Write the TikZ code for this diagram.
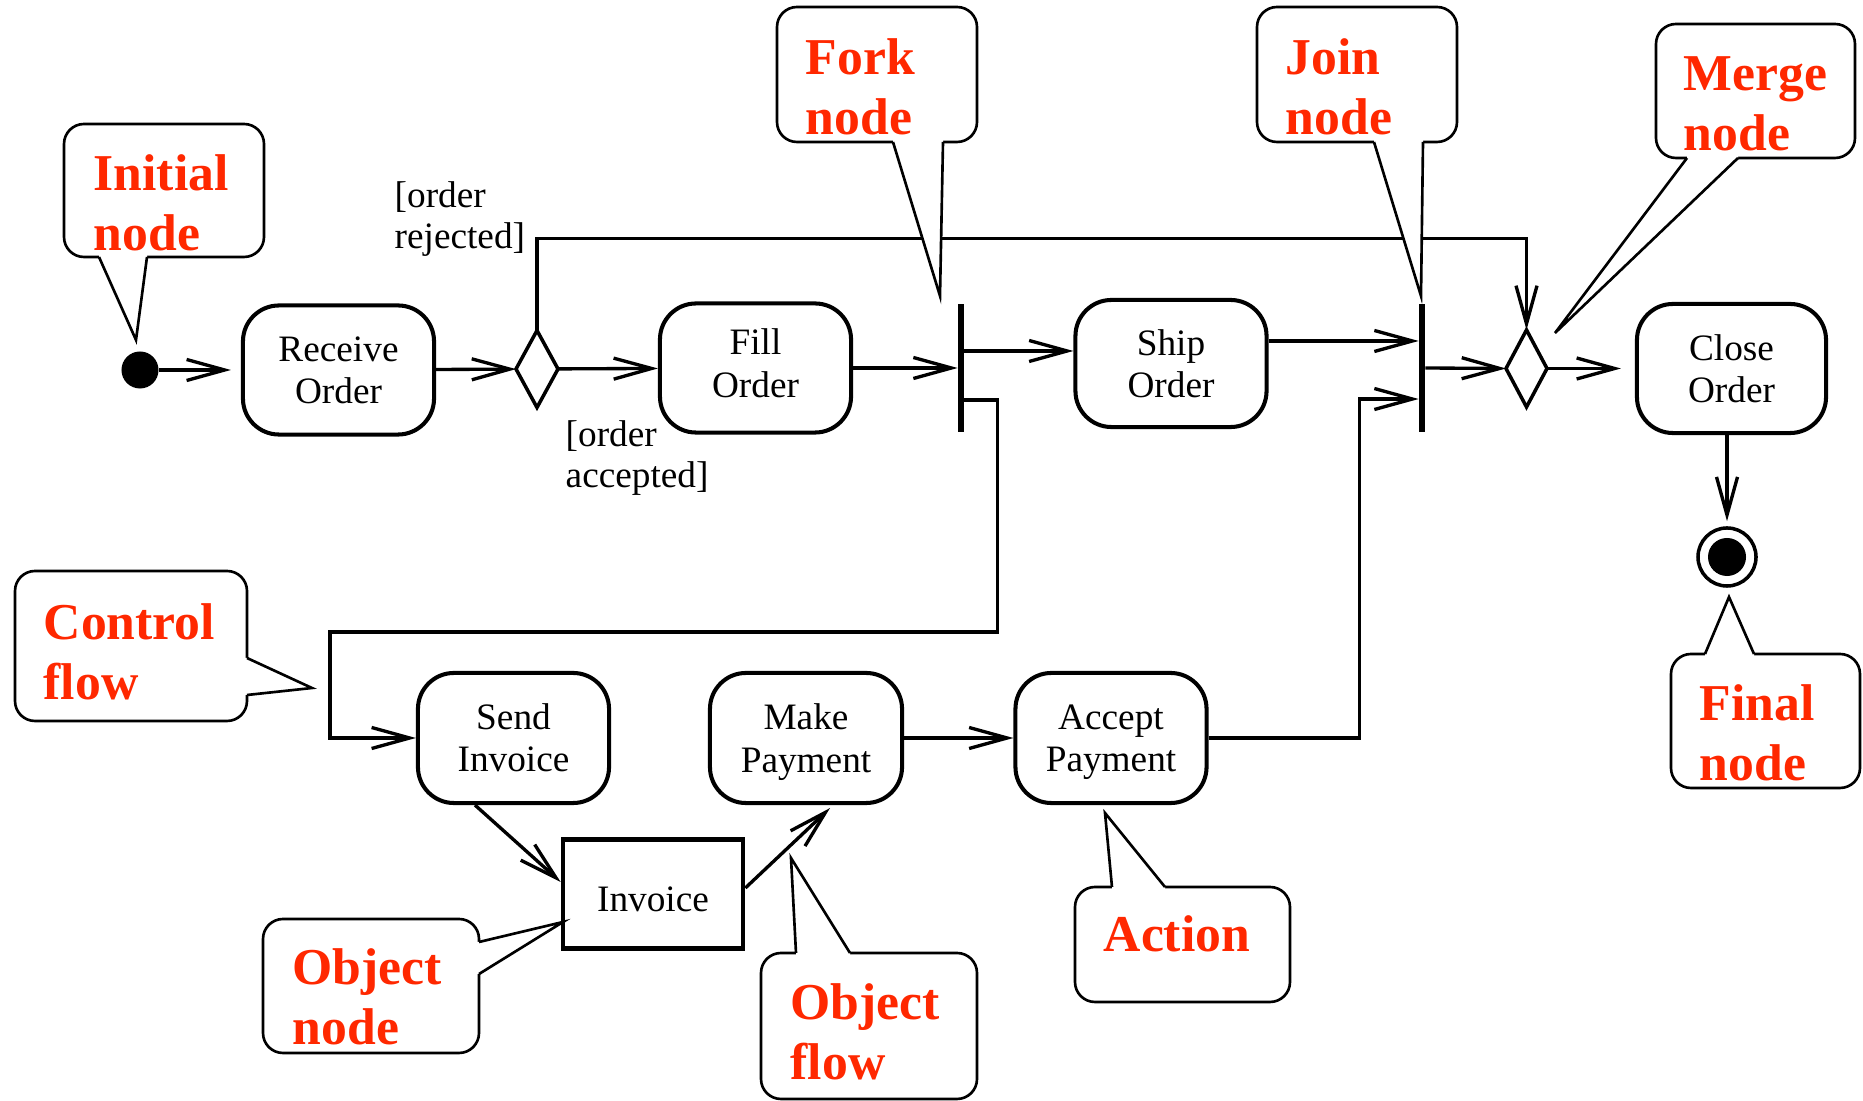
\documentclass[tikz,border=0pt]{standalone}
\usepackage{fontspec}
\setmainfont{Liberation Serif}
\usetikzlibrary{arrows.meta,shapes.geometric}
\definecolor{notered}{RGB}{255,40,0}
% a text line whose descender does not count for centring
\newcommand\nodepthline[1]{\raisebox{0pt}[\height][0pt]{#1}}

\begin{document}
\begin{tikzpicture}[x=0.01cm, y=-0.01cm,
  flow/.style={line width=0.95pt, -{Straight Barb[length=0.38cm,width=0.21cm]}},
  action/.style={draw, line width=1.15pt, rounded corners=0.36cm,
    minimum width=1.91cm, minimum height=1.29cm, align=center, inner sep=0pt,
    font=\fontsize{10.6}{12}\selectfont},
  objbox/.style={draw, line width=1.3pt, minimum width=1.80cm, minimum height=1.09cm,
    inner sep=0pt, font=\fontsize{10.6}{12}\selectfont},
  branch/.style={diamond, draw, line width=1pt, minimum width=0.42cm,
    minimum height=0.77cm, inner sep=0pt, outer sep=0pt},
  bar/.style={fill=black, minimum width=0.067cm, minimum height=1.28cm,
    inner sep=0pt, outer sep=0pt},
  guard/.style={font=\fontsize{10.6}{11.4}\selectfont, anchor=base west, inner sep=0pt},
  callbox/.style={draw, fill=white, line width=0.75pt, rounded corners=0.2cm},
  tailfill/.style={fill=white},
  tailline/.style={line width=0.75pt, line join=miter},
  notetext/.style={text=notered, font={\fontsize{14.7}{17}\selectfont\bfseries},
    anchor=base west, inner sep=0pt},
]
\fill[white] (0,0) rectangle (1863,1101);
\useasboundingbox (0,0) rectangle (1863,1101);

% ---- activity nodes ----
\node[circle, fill=black, minimum size=0.37cm, inner sep=0pt] (init) at (140,370) {};
\node[action] (recv) at (338.5,370) {Receive\\Order};
\node[branch] (dec) at (537,369) {};
\node[action] (fillo) at (755.5,368) {Fill\\\raisebox{0pt}[\height][0.1cm]{Order}};
\node[bar] (fork) at (961,368) {};
\node[action, minimum height=1.27cm] (ship) at (1171,363.5) {Ship\\Order};
\node[bar] (join) at (1422,368) {};
\node[branch, minimum width=0.41cm] (merge) at (1526.5,368.5) {};
\node[action, minimum width=1.89cm] (close) at (1731.5,368.5) {Close\\Order};
\node[circle, draw, line width=1pt, minimum size=0.58cm, inner sep=0pt] (final) at (1727,557) {};
\node[circle, fill=black, minimum size=0.38cm, inner sep=0pt] (finaldot) at (final) {};

\node[action, minimum height=1.30cm] (send) at (513.5,738) {Send\\Invoice};
\node[action, minimum height=1.30cm, minimum width=1.92cm] (make) at (806,738)
  {Make\\\nodepthline{Payment}};
\node[action, minimum height=1.30cm] (accept) at (1111,738) {Accept\\\nodepthline{Payment}};
\node[objbox] (inv) at (653,894) {\raisebox{-0.055cm}[\height][\depth]{Invoice}};

% ---- guards ----
\node[guard] (gRej) at (394,208) {\begin{tabular}[t]{@{}l@{}}[order\\rejected]\end{tabular}};
\node[guard] (gAcc) at (565,447) {\begin{tabular}[t]{@{}l@{}}[order\\accepted]\end{tabular}};

% ---- control flows ----
\draw[flow, shorten >=0.1cm] (init) -- (recv);
\draw[flow] (recv) -- (dec);
\draw[flow] (dec) -- (fillo);
\draw[flow] (fillo) -- (fillo -| fork.west);
\draw[flow] ([yshift=0.17cm]fork.east) -- ([yshift=0.17cm]fork.east -| ship.west);
\draw[flow] ([yshift=-0.32cm]fork.east) -- ++(33,0) |- (330,632) |- (send.west);
\draw[flow] (dec.north) -- ++(0,-92) -| (merge.north);
\draw[flow] ([yshift=0.225cm]ship.east) -- ([yshift=0.225cm]ship.east -| join.west);
\draw[flow] (accept.east) -- ++(151,0) |- ([yshift=-0.31cm]join.west);
\draw[flow] (join.east) -- (merge.west);
\draw[flow, shorten >=0.14cm] (merge.east) -- (close.west);
\draw[flow, shorten >=0.05cm] (final.north |- close.south) -- (final.north);
\draw[flow] (make) -- (accept);

% ---- object flows ----
\draw[flow] ([xshift=-0.385cm]send.south) -- ([yshift=0.12cm]inv.west);
\draw[flow] ([yshift=0.06cm]inv.east) -- ([xshift=0.24cm,yshift=-0.03cm]make.south);

% ---- callouts ----
% Initial node
\draw[callbox] (64,124) rectangle (264,257);
\fill[tailfill] (99,252) -- (99,257) -- (136,340) -- (147,257) -- (147,252) -- cycle;
\draw[tailline] (99,257) -- (136,340) -- (147,257);
\node[notetext] (tInit) at (93,191) {\begin{tabular}[t]{@{}l@{}}Initial\\node\end{tabular}};

% Fork node
\draw[callbox] (777,7) rectangle (977,142);
\fill[tailfill] (893,137) -- (893,142) -- (940,296) -- (943,142) -- (943,137) -- cycle;
\draw[tailline] (893,142) -- (940,296) -- (943,142);
\node[notetext] (tFork) at (805,75) {\begin{tabular}[t]{@{}l@{}}Fork\\node\end{tabular}};

% Join node
\draw[callbox] (1257,7) rectangle (1457,142);
\fill[tailfill] (1374,137) -- (1374,142) -- (1421,296) -- (1423,142) -- (1423,137) -- cycle;
\draw[tailline] (1374,142) -- (1421,296) -- (1423,142);
\node[notetext] (tJoin) at (1285,75) {\begin{tabular}[t]{@{}l@{}}Join\\node\end{tabular}};

% Merge node
\draw[callbox] (1656,24) rectangle (1855,158);
\fill[tailfill] (1687,153) -- (1687,158) -- (1555,333) -- (1738,158) -- (1738,153) -- cycle;
\draw[tailline] (1687,158) -- (1555,333) -- (1738,158);
\node[notetext] (tMerge) at (1683,91) {\begin{tabular}[t]{@{}l@{}}Merge\\node\end{tabular}};

% Control flow
\draw[callbox] (15,571) rectangle (247,721);
\fill[tailfill] (242,658) -- (247,658) -- (312,688) -- (247,695) -- (242,695) -- cycle;
\draw[tailline] (247,658) -- (312,688) -- (247,695);
\node[notetext] (tCtrl) at (43,640) {\begin{tabular}[t]{@{}l@{}}Control\\flow\end{tabular}};

% Object node
\draw[callbox] (263,919) rectangle (479,1053);
\fill[tailfill] (474,942) -- (479,942) -- (563,922) -- (479,974) -- (474,974) -- cycle;
\draw[tailline] (479,942) -- (563,922) -- (479,974);
\node[notetext] (tObjN) at (292,985) {\begin{tabular}[t]{@{}l@{}}Object\\node\end{tabular}};

% Object flow
\draw[callbox] (761,953) rectangle (977,1099);
\fill[tailfill] (796,958) -- (796,953) -- (791,858) -- (850,953) -- (850,958) -- cycle;
\draw[tailline] (796,953) -- (791,858) -- (850,953);
\node[notetext] (tObjF) at (790,1020) {\begin{tabular}[t]{@{}l@{}}Object\\flow\end{tabular}};

% Action
\draw[callbox] (1075,887) rectangle (1290,1002);
\fill[tailfill] (1112,892) -- (1112,887) -- (1105,813) -- (1165,887) -- (1165,892) -- cycle;
\draw[tailline] (1112,887) -- (1105,813) -- (1165,887);
\node[notetext] (tAct) at (1103,952) {Action};

% Final node
\draw[callbox] (1671,654) rectangle (1860,788);
\fill[tailfill] (1705,659) -- (1705,654) -- (1729,597) -- (1754,654) -- (1754,659) -- cycle;
\draw[tailline] (1705,654) -- (1729,597) -- (1754,654);
\node[notetext] (tFinal) at (1699,721) {\begin{tabular}[t]{@{}l@{}}Final\\node\end{tabular}};
\end{tikzpicture}
\end{document}
